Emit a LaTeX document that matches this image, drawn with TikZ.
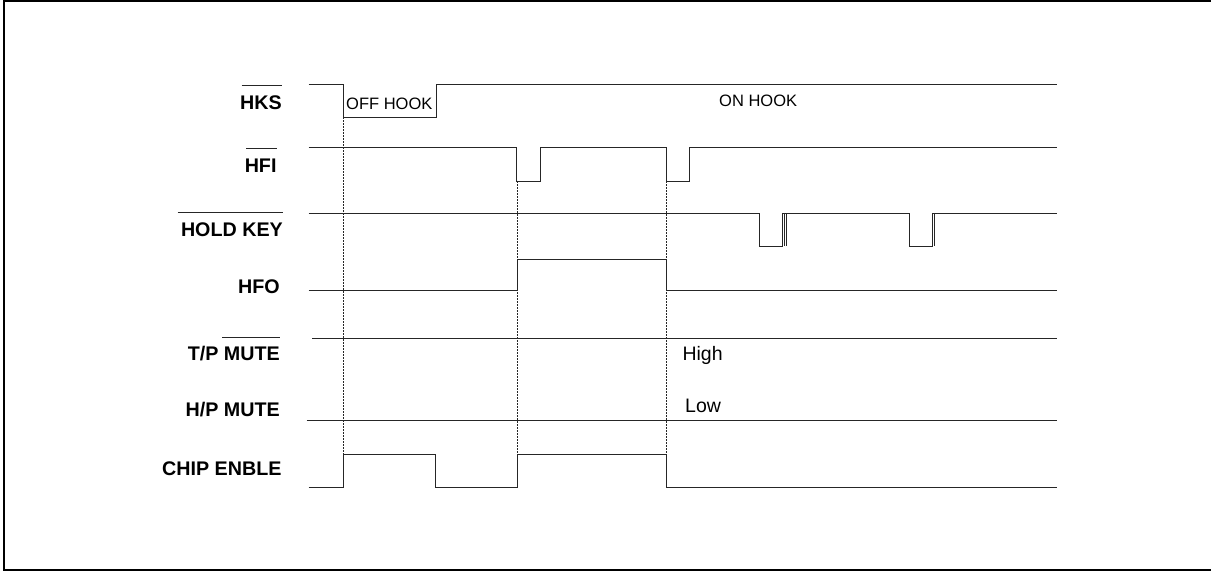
\documentclass[tikz,border=0pt]{standalone}
\usepackage{fontspec}
\setmainfont{Liberation Sans}
\begin{document}
\begin{tikzpicture}[x=1pt,y=-1pt,
  sig/.style={line width=1pt, draw=black!85},
  guide/.style={dash pattern=on 2pt off 1pt, line width=0.6pt, draw=black!85},
  lab/.style={font=\fontsize{19.7}{22}\selectfont\bfseries, inner sep=0pt, anchor=base east},
  note/.style={font=\fontsize{16.5}{19}\selectfont, inner sep=0pt, anchor=base west},
  bignote/.style={font=\fontsize{19.5}{22}\selectfont, inner sep=0pt, anchor=base west},
  bar/.style={line width=1pt, draw=black!85}]
\useasboundingbox (0,0) rectangle (1211,571);
\draw[line width=2pt] (1211,1) -- (4,1) -- (4,569.8) -- (1211,569.8);
% labels
\node[lab] (hks) at (282,109.3) {HKS};
\node[lab] (hfi) at (276.7,172.7) {HFI};
\node[lab] (hold) at (283,236.4) {HOLD KEY};
\node[lab] (hfo) at (280,293.3) {HFO};
\node[lab] (tp) at (280,360.7) {T/P MUTE};
\node[lab] (hp) at (280,416) {H/P MUTE};
\node[lab] (chip) at (281.7,475) {CHIP ENBLE};
% overlines
\draw[bar] (241.7,85.3) -- (282,85.3);
\draw[bar] (246,148.3) -- (276.5,148.3);
\draw[bar] (177.7,212.7) -- (283,212.7);
\draw[bar] (222.3,337.7) -- (280,337.7);
% state texts
\node[note] (off) at (346,109.3) {OFF HOOK};
\node[note] (on) at (719,106) {ON HOOK};
\node[bignote] (high) at (682.3,360.7) {High};
\node[bignote] (low) at (685,412.3) {Low};
% waveforms
\draw[sig] (308.7,84.3) -| (343.7,117.3) -| (436,84.3) -- (1057,84.3);
\draw[sig] (308.7,147.3) -| (516.7,181) -| (540,147.3) -| (666.7,181) -| (689.7,147.3) -- (1057,147.3);
\draw[sig] (308.7,213.5) -| (759.3,246.3) -| (782.3,213.5) -| (909.3,246.3) -| (932.3,213.5) -- (1057,213.5);
\draw[sig, line width=0.8pt] (784.4,213.5) -- (784.4,246.3) (786.1,213.5) -- (786.1,246.3) (934.3,213.5) -- (934.3,246.3);
\draw[sig] (308.7,290.7) -| (517,259) -| (666.7,290.7) -- (1057,290.7);
\draw[sig] (312,338.7) -- (1057,338.7);
\draw[sig] (306.7,420.7) -- (1057,420.7);
\draw[sig] (308.7,487.3) -| (343.7,454.7) -| (435.3,487.3) -| (517,454.5) -| (666.7,487.3) -- (1057,487.3);
% guides
\draw[guide] (343.7,117.3) -- (343.7,454.7);
\draw[guide] (516.8,181) -- (516.8,454.5);
\draw[guide] (666.7,181) -- (666.7,454.5);
\end{tikzpicture}
\end{document}
